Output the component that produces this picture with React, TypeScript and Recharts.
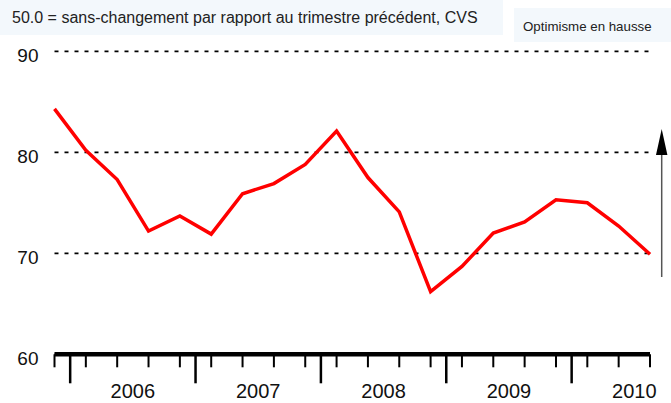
import React from 'react';
import { LineChart, Line, XAxis, YAxis, CartesianGrid } from 'recharts';

// Indice trimestriel, CVS (50.0 = sans changement)
const quarters = [
  'T4 2005',
  'T1 2006', 'T2 2006', 'T3 2006', 'T4 2006',
  'T1 2007', 'T2 2007', 'T3 2007', 'T4 2007',
  'T1 2008', 'T2 2008', 'T3 2008', 'T4 2008',
  'T1 2009', 'T2 2009', 'T3 2009', 'T4 2009',
  'T1 2010', 'T2 2010', 'T3 2010',
];
const values = [
  84.3,
  80.2, 77.3, 72.2, 73.7,
  71.9, 75.9, 76.9, 78.8,
  82.1, 77.5, 74.1, 66.2,
  68.7, 72.0, 73.1, 75.3,
  75.0, 72.7, 69.9,
];
const years = ['2006', '2007', '2008', '2009', '2010'];
const yTicks = [60, 70, 80, 90];
const subtitle = '50.0 = sans-changement par rapport au trimestre précédent, CVS';
const arrowLabel = 'Optimisme en hausse';

const FONT = '"Liberation Sans", Arial, Helvetica, sans-serif';

const data = quarters.map((q, i) => ({ pos: i, quarter: q, value: values[i] }));

// tick kinds: quarter marks, year boundaries, year labels
const tickKind = new Map<number, { kind: string; label?: string }>();
quarters.forEach((_, i) => tickKind.set(i, { kind: 'quarter' }));
years.forEach((y) => {
  const start = quarters.indexOf(`T1 ${y}`);
  tickKind.set(start - 0.5, { kind: 'year' });
  tickKind.set(start + 1.5, { kind: 'label', label: y });
});
const xTicks = Array.from(tickKind.keys()).sort((a, b) => a - b);

const XTick = (props: any) => {
  const { x, y, payload } = props;
  const t = tickKind.get(payload.value);
  if (!t) return null;
  if (t.kind === 'quarter') {
    return <line x1={x} x2={x} y1={y} y2={y + 13} stroke="#000" strokeWidth={2} />;
  }
  if (t.kind === 'year') {
    return <line x1={x} x2={x} y1={y} y2={y + 29} stroke="#000" strokeWidth={2.5} />;
  }
  return (
    <text x={x} y={y + 44} textAnchor="middle" fontSize={20} fontFamily={FONT} fill="#111">
      {t.label}
    </text>
  );
};

const YTick = (props: any) => {
  const { x, y, payload } = props;
  return (
    <text x={x} y={y + 11} textAnchor="end" fontSize={19} fontFamily={FONT} fill="#111">
      {payload.value}
    </text>
  );
};

export default function App() {
  return (
    <div style={{ position: 'relative', width: 671, height: 403, background: '#fff', fontFamily: FONT }}>
      <style>{'body{margin:0}'}</style>
      <div
        style={{
          position: 'absolute', left: 0, top: 0, width: 503, height: 35,
          background: '#f3f8fc', fontSize: 16, color: '#222', lineHeight: '35px', paddingLeft: 12,
          boxSizing: 'border-box', whiteSpace: 'nowrap',
        }}
      >
        {subtitle}
      </div>
      <div
        style={{
          position: 'absolute', left: 514, top: 8, width: 157, height: 34,
          background: '#f3f8fc', fontSize: 13.3, color: '#222', lineHeight: '38px', paddingLeft: 9,
          boxSizing: 'border-box', whiteSpace: 'nowrap',
        }}
      >
        {arrowLabel}
      </div>
      <div style={{ position: 'absolute', left: 0, top: 0 }}>
        <LineChart width={671} height={403} data={data} margin={{ top: 51.3, right: 21, left: 0, bottom: 0 }}>
          <CartesianGrid vertical={false} stroke="#000" strokeWidth={1.8} strokeDasharray="4 6" />
          <XAxis
            dataKey="pos"
            type="number"
            domain={[0, quarters.length - 1]}
            ticks={xTicks}
            interval={0}
            height={48.7}
            tickSize={0}
            tickMargin={0}
            tickLine={false}
            axisLine={{ stroke: '#000', strokeWidth: 4.5 }}
            tick={<XTick />}
          />
          <YAxis
            domain={[60, 90]}
            ticks={yTicks}
            width={54.5}
            tickSize={0}
            tickMargin={16}
            tickLine={false}
            axisLine={false}
            tick={<YTick />}
          />
          <Line
            type="linear"
            dataKey="value"
            stroke="#ff0000"
            strokeWidth={3.5}
            dot={false}
            isAnimationActive={false}
          />
        </LineChart>
      </div>
      <svg width={671} height={403} style={{ position: 'absolute', left: 0, top: 0, pointerEvents: 'none' }}>
        <line x1={661.7} x2={661.7} y1={277} y2={150} stroke="#555" strokeWidth={1.5} />
        <polygon points="661.7,129 656,155 667.4,155" fill="#000" />
      </svg>
    </div>
  );
}
